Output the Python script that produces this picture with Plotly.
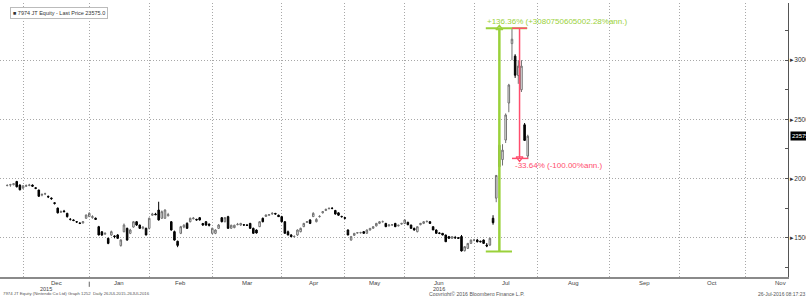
import plotly.graph_objects as go
import pandas as pd

# ---------------- data ----------------
# Tokyo exchange holidays inside the window (used to build the trading-day axis)
holidays = ["2015-11-23", "2015-12-23", "2015-12-31", "2016-01-01", "2016-01-11",
            "2016-02-11", "2016-03-21", "2016-04-29", "2016-05-03", "2016-05-04",
            "2016-05-05", "2016-07-18"]
first_day, last_day, axis_end = "2015-11-20", "2016-07-26", "2016-11-30"

# daily OHLC, one entry per trading day from 20 Nov 2015 to 26 Jul 2016
open_ = [
    # Nov
    19400, 19450, 19480, 19750, 19450, 19200,
    # Dec
    19350, 19420, 19450, 19220, 19030, 18600, 18700, 18500, 18350, 17950, 17500,
    17150, 17250, 17060, 16550, 16500, 16350, 16250, 16250, 16640, 16780,
    # Jan
    16700, 16650, 15930, 15500, 15300, 14950, 15230, 15150, 15230, 14330, 15510,
    15790, 15370, 15900, 16350, 16070, 15800, 15790, 15790,
    # Feb
    16900, 17000, 17340, 16640, 16640, 16850, 16350, 15510, 14700, 15370, 15900,
    16210, 16350, 16600, 16550, 16690, 16200, 16350, 16150, 15370,
    # Mar
    15370, 15790, 16690, 16350, 16780, 15800, 15850, 16100, 16070, 16100, 16070,
    16210, 15790, 15650, 15930, 16640, 16800, 16900, 17000, 17050, 16900, 16780,
    # Apr
    16350, 15500, 15230, 15090, 15230, 15510, 15930, 16300, 16500, 16780, 16350,
    16780, 17100, 17300, 17450, 17500, 17300, 17100, 16800, 16700,
    # May
    15650, 14800, 15200, 15400, 15420, 15510, 15370, 15650, 15800, 16000, 16210,
    16350, 16210, 16000, 16070, 16210, 16000, 16150, 16210,
    # Jun
    16300, 16070, 15790, 15510, 16100, 16210, 16350, 16350, 15930, 15650, 15400,
    15370, 15230, 15090, 14950, 15000, 15000, 15100, 13900, 14100, 14520, 14800,
    # Jul
    14800, 14700, 14800, 14380, 14380, 16640, 18340, 21000, 21600, 23250, 26380,
    31400, 30340, 28700, 27500, 24540, 21900,
]
high = [
    19500, 19550, 19620, 19800, 19500, 19450,
    19500, 19550, 19500, 19250, 19050, 18750, 18800, 18550, 18400, 18000, 17550,
    17300, 17350, 17100, 16650, 16550, 16400, 16300, 16400, 16950, 17150,
    16900, 16700, 16000, 15550, 15450, 15000, 15600, 15200, 15300, 14850, 16200,
    15850, 15750, 16400, 16400, 16100, 15950, 15850, 16700,
    17100, 17100, 18040, 17300, 17400, 17100, 16400, 15600, 14750, 16000, 16150,
    16300, 16700, 16750, 16600, 16750, 16250, 16400, 16200, 15850,
    15700, 16150, 16750, 16750, 16850, 16100, 16100, 16250, 16250, 16150, 16120,
    16250, 15850, 15700, 16400, 16700, 16950, 17000, 17150, 17100, 16950, 16850,
    16400, 15600, 15300, 15200, 15700, 15850, 16250, 16400, 16550, 17150, 16650,
    16900, 17250, 17450, 17550, 17550, 17350, 17150, 16850, 16750,
    15700, 15150, 15400, 15450, 15500, 15550, 15700, 15800, 15950, 16250, 16400,
    16450, 16250, 16150, 16150, 16250, 16100, 16250, 16550,
    16350, 16100, 15850, 15950, 16250, 16400, 16450, 16400, 15950, 15700, 15450,
    15400, 15250, 15150, 15100, 15150, 15050, 15230, 14300, 14550, 14850, 14900,
    14900, 14750, 14850, 14550, 15000, 16900, 20300, 22900, 22900, 25500, 28000,
    32700, 30500, 30000, 30000, 24690, 23700,
]
low = [
    19350, 19300, 19420, 19250, 19000, 19100,
    19300, 19350, 19300, 19100, 18450, 18500, 18600, 18350, 18200, 17800, 17050,
    17100, 17150, 16700, 16450, 16400, 16250, 16150, 16200, 16600, 16750,
    16600, 16500, 15200, 15150, 15250, 14450, 15150, 14950, 14900, 14250, 15450,
    14750, 15300, 15850, 16000, 15750, 15700, 15200, 15700,
    16850, 16900, 16450, 16600, 16600, 16800, 15600, 14750, 14200, 15300, 15800,
    15750, 16300, 16550, 16450, 16450, 16000, 16000, 15950, 15300,
    15300, 15750, 16300, 16300, 15750, 15750, 15800, 16050, 16000, 16000, 16000,
    15750, 15350, 15350, 15900, 16300, 16750, 16850, 16950, 16950, 16850, 16300,
    15350, 15200, 15050, 15000, 15150, 15450, 15900, 16250, 16150, 16750, 16300,
    16700, 17050, 17250, 17400, 17400, 16950, 16850, 16700, 16550,
    15200, 14750, 15150, 15350, 15350, 15350, 15350, 15600, 15750, 15950, 16150,
    16300, 15900, 15950, 16000, 15900, 15950, 16100, 16150,
    16050, 15750, 15600, 15450, 16050, 16150, 16300, 16200, 15650, 15350, 15300,
    15200, 14650, 14900, 14900, 14900, 14900, 13835, 13835, 14050, 14480, 14700,
    14600, 14600, 14500, 14200, 14300, 16100, 18000, 20700, 21100, 23000, 25600,
    30000, 28500, 28000, 27310, 23220, 21700,
]
close = [
    19420, 19480, 19560, 19300, 19050, 19370,
    19400, 19450, 19350, 19170, 18500, 18650, 18720, 18450, 18300, 17900, 17100,
    17200, 17200, 16780, 16550, 16450, 16330, 16200, 16350, 16920, 17060,
    16780, 16550, 15230, 15230, 15370, 14520, 15510, 15090, 14950, 14810, 16070,
    14800, 15650, 16350, 16070, 15790, 15900, 15230, 16640,
    17000, 16950, 16500, 17200, 17340, 16950, 15650, 14800, 14350, 15930, 16050,
    15790, 16640, 16650, 16500, 16500, 16070, 16070, 16050, 15790,
    15650, 16070, 16350, 16690, 15790, 16050, 16050, 16130, 16210, 16070, 16050,
    15790, 15370, 15400, 16350, 16350, 16920, 16950, 17060, 17000, 16780, 16350,
    15370, 15230, 15090, 15100, 15650, 15790, 16210, 16350, 16210, 17060, 16550,
    16800, 17200, 17400, 17480, 17480, 17000, 16900, 16780, 16640,
    15230, 15090, 15370, 15420, 15430, 15370, 15650, 15790, 15930, 16210, 16350,
    16350, 15930, 16070, 16100, 15930, 16050, 16210, 16500,
    16100, 15790, 15650, 15930, 16210, 16350, 16380, 16210, 15650, 15370, 15370,
    15230, 14660, 14950, 15090, 15000, 14950, 13880, 14240, 14520, 14800, 14800,
    14660, 14660, 14520, 14300, 14950, 16270, 20260, 22810, 22400, 25370, 27900,
    31770, 28730, 29500, 29500, 23220, 23575,
]

months = ["Jan", "Feb", "Mar", "Apr", "May", "Jun", "Jul", "Aug", "Sep", "Oct", "Nov", "Dec"]
y_ticks = [15000, 20000, 25000, 30000]
legend_text = "7974 JT Equity - Last Price 23575.0"
gain_text = "+136.36% (+3080750605002.28%ann.)"
loss_text = "-33.64% (-100.00%ann.)"
footer_left = "7974 JT Equity (Nintendo Co Ltd) Graph 1252  Daily 26JUL2015-26JUL2016"
footer_mid = "Copyright\u00a9 2016 Bloomberg Finance L.P."
footer_right = "26-Jul-2016 08:17:23"

# ---------------- trading-day axis ----------------
trade_days = [d for d in pd.bdate_range(first_day, last_day)
              if d.strftime("%Y-%m-%d") not in holidays]
future_days = list(pd.bdate_range(pd.Timestamp(last_day) + pd.Timedelta(days=1), axis_end))
axis_days = trade_days + future_days
origin = axis_days.index(pd.Timestamp("2015-11-30"))
pos = {d: i - origin for i, d in enumerate(axis_days)}
x = [pos[d] for d in trade_days]

month_end = {}
for d in axis_days:
    month_end[(d.year, d.month)] = pos[d]
keys = sorted(month_end)
grid_x = [month_end[k] for k in keys]

def P(s):
    return pos[pd.Timestamp(s)]

GREEN = "#9ad13a"
RED = "#ff4d6d"
TXT = "#444444"
FONT = "Liberation Sans, Arial, sans-serif"
PLOT_W = 788

fig = go.Figure()
fig.add_trace(go.Candlestick(
    x=x, open=open_, high=high, low=low, close=close,
    increasing=dict(fillcolor="white", line=dict(color="#707070", width=1)),
    decreasing=dict(fillcolor="black", line=dict(color="black", width=1)),
    whiskerwidth=0, hoverinfo="skip", showlegend=False,
))

# measurement overlays (Bloomberg % change tool)
lo, hi, last_lo = min(low), max(high), low[-1]
shapes = [
    dict(type="line", x0=P("2016-07-12"), x1=P("2016-07-12"), y0=lo, y1=hi,
         line=dict(color=GREEN, width=2.5)),
    dict(type="line", x0=P("2016-07-06") - 0.3, x1=P("2016-07-19"), y0=lo, y1=lo,
         line=dict(color=GREEN, width=2)),
    dict(type="line", x0=P("2016-07-06") - 0.3, x1=P("2016-07-26") - 0.2, y0=hi, y1=hi,
         line=dict(color=GREEN, width=2)),
    dict(type="line", x0=P("2016-07-21") + 0.4, x1=P("2016-07-21") + 0.4, y0=last_lo, y1=hi,
         line=dict(color=RED, width=1.5)),
    dict(type="line", x0=P("2016-07-19"), x1=P("2016-07-26") - 0.2, y0=hi, y1=hi,
         line=dict(color=RED, width=1.5)),
    dict(type="line", x0=P("2016-07-19"), x1=P("2016-07-26") + 0.2, y0=last_lo, y1=last_lo,
         line=dict(color=RED, width=1.5)),
    # year separator tick under the axis
    dict(type="line", xref="x", yref="paper", x0=month_end[(2015, 12)], x1=month_end[(2015, 12)],
         y0=-0.017, y1=-0.036, line=dict(color="#666", width=1)),
]
fig.add_trace(go.Scatter(x=[P("2016-07-12")], y=[hi], mode="markers",
                         marker=dict(symbol="triangle-up", size=6, color="white",
                                     line=dict(color=GREEN, width=1.2)),
                         hoverinfo="skip", showlegend=False))
fig.add_trace(go.Scatter(x=[P("2016-07-21") + 0.4], y=[last_lo], mode="markers",
                         marker=dict(symbol="triangle-down", size=6, color="white",
                                     line=dict(color=RED, width=1.2)),
                         hoverinfo="skip", showlegend=False))

ann = []
ann.append(dict(x=P("2016-07-06") - 0.4, y=hi, xref="x", yref="y", text=gain_text,
                showarrow=False, xanchor="left", yanchor="bottom", yshift=0,
                font=dict(size=8, color=GREEN, family=FONT)))
ann.append(dict(x=P("2016-07-19") + 0.3, y=last_lo, xref="x", yref="y", text=loss_text,
                showarrow=False, xanchor="left", yanchor="top", yshift=-1,
                font=dict(size=8, color=RED, family=FONT)))
# month labels centred between month gridlines
for a, b in zip(keys[:-1], keys[1:]):
    ann.append(dict(x=(month_end[a] + month_end[b]) / 2, y=0, xref="x", yref="paper",
                    text=months[b[1] - 1], showarrow=False, yanchor="top", yshift=-1,
                    font=dict(size=6, color=TXT, family=FONT)))
ann.append(dict(x=(month_end[(2015, 11)] + month_end[(2015, 12)]) / 2, y=0, xref="x", yref="paper",
                text="2015", showarrow=False, yanchor="top", yshift=-6.5, xshift=-10,
                font=dict(size=5.5, color=TXT, family=FONT)))
ann.append(dict(x=(month_end[(2016, 5)] + month_end[(2016, 6)]) / 2, y=0, xref="x", yref="paper",
                text="2016", showarrow=False, yanchor="top", yshift=-6.5,
                font=dict(size=5.5, color=TXT, family=FONT)))
# footer
ann.append(dict(x=0, y=0, xref="paper", yref="paper", text=footer_left, showarrow=False,
                xanchor="left", yanchor="top", yshift=-12, xshift=1,
                font=dict(size=4.3, color="#555", family=FONT)))
ann.append(dict(x=477 / PLOT_W, y=0, xref="paper", yref="paper", text=footer_mid, showarrow=False,
                xanchor="center", yanchor="top", yshift=-11.5,
                font=dict(size=5.2, color="#555", family=FONT)))
ann.append(dict(x=1, y=0, xref="paper", yref="paper", text=footer_right, showarrow=False,
                xanchor="left", yanchor="top", yshift=-12, xshift=-32,
                font=dict(size=5, color="#555", family=FONT)))
# legend box
ann.append(dict(x=10 / PLOT_W, y=1, xref="paper", yref="paper", text="\u25a0 " + legend_text,
                showarrow=False, xanchor="left", yanchor="top", yshift=-4,
                bordercolor="#bbbbbb", borderwidth=1, borderpad=2, bgcolor="white",
                font=dict(size=5.5, color="#333", family=FONT)))
# last price tag
ann.append(dict(x=1, y=close[-1], xref="paper", yref="y", text=str(close[-1]),
                showarrow=False, xanchor="left", xshift=2, bgcolor="black",
                borderpad=1, font=dict(size=6, color="white", family=FONT)))

fig.update_layout(
    width=806, height=296,
    margin=dict(l=0, r=18, t=3, b=19, autoexpand=False),
    paper_bgcolor="white", plot_bgcolor="white",
    showlegend=False,
    shapes=shapes, annotations=ann,
    xaxis=dict(range=[-7.3, 242.5], tickvals=grid_x, showticklabels=False, ticks="",
               showgrid=True, gridcolor="#a8a8a8", griddash="1px,2px", gridwidth=1,
               showline=True, linecolor="#8a8a8a", linewidth=2, zeroline=False,
               rangeslider=dict(visible=False), fixedrange=True, automargin=False),
    yaxis=dict(side="right", range=[11680, 34830], tickvals=y_ticks,
               ticktext=["\u25b8" + str(v) for v in y_ticks],
               tickfont=dict(size=6.5, color="#333", family=FONT),
               showgrid=True, gridcolor="#a8a8a8", griddash="1px,2px", gridwidth=1,
               showline=True, linecolor="#555", linewidth=1, zeroline=False,
               ticks="", ticklabelstandoff=0, automargin=False,
               minor=dict(ticks="inside", dtick=2500, tick0=0, ticklen=3,
                          tickcolor="#555", showgrid=False)),
)

fig.write_html("out.html", config={"displayModeBar": False},
               post_script="document.body.style.margin='0';document.body.style.padding='0';"
                           "document.body.style.overflow='hidden';")
